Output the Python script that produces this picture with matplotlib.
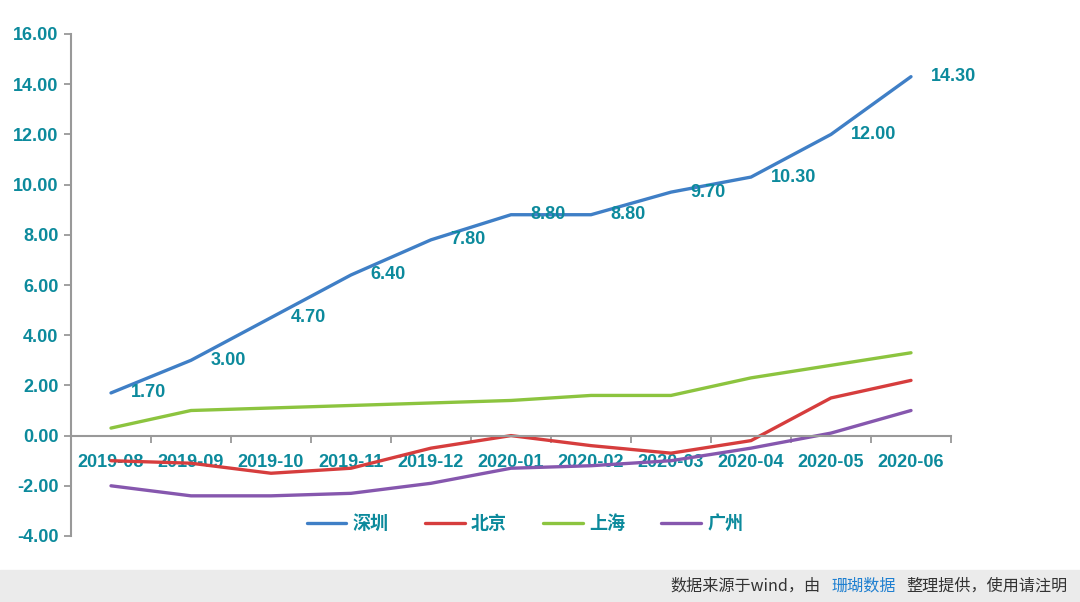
import numpy as np
import matplotlib.pyplot as plt
from matplotlib.patches import Rectangle

plt.rcParams['font.family'] = ['Liberation Sans', 'Noto Sans CJK SC', 'DejaVu Sans']

# data
months = ['2019-08', '2019-09', '2019-10', '2019-11', '2019-12', '2020-01',
          '2020-02', '2020-03', '2020-04', '2020-05', '2020-06']
shenzhen = [1.70, 3.00, 4.70, 6.40, 7.80, 8.80, 8.80, 9.70, 10.30, 12.00, 14.30]
beijing = [-1.0, -1.1, -1.5, -1.3, -0.5, 0.0, -0.4, -0.7, -0.2, 1.5, 2.2]
shanghai = [0.3, 1.0, 1.1, 1.2, 1.3, 1.4, 1.6, 1.6, 2.3, 2.8, 3.3]
guangzhou = [-2.0, -2.4, -2.4, -2.3, -1.9, -1.3, -1.2, -1.0, -0.5, 0.1, 1.0]
names = ['深圳', '北京', '上海', '广州']
colors = ['#3F7FC6', '#D63D3D', '#8CC43F', '#8657AE']

teal = '#0C8A9C'
x = np.arange(len(months))

fig = plt.figure(figsize=(10.8, 6.02), dpi=100)
ax = fig.add_axes([71 / 1080, 66 / 602, 880 / 1080, 502 / 602])

for vals, name, c in zip([shenzhen, beijing, shanghai, guangzhou], names, colors):
    ax.plot(x, vals, color=c, lw=2.4, label=name, solid_capstyle='round')

for xi, v in zip(x, shenzhen):
    ax.annotate(f'{v:.2f}', (xi, v), xytext=(14, 0), textcoords='offset points',
                ha='left', va='center', color=teal, fontsize=13, fontweight='bold')

for s in ['top', 'right']:
    ax.spines[s].set_visible(False)
ax.spines['bottom'].set_position(('data', 0))
for s in ['left', 'bottom']:
    ax.spines[s].set_color('#999999')
    ax.spines[s].set_linewidth(1.5)

ax.set_xlim(-0.5, len(months) - 0.5)
ax.set_ylim(-4, 16)
yt = np.arange(-4, 17, 2)
ax.set_yticks(yt)
ax.set_yticklabels([f'{v:.2f}' for v in yt], fontsize=13, fontweight='bold', color=teal)

ax.set_xticks(x)
ax.set_xticklabels(months, fontsize=13, fontweight='bold', color=teal)
ax.set_xticks(np.arange(0.5, len(months), 1), minor=True)
ax.tick_params(axis='x', which='major', length=0, pad=13)
ax.tick_params(axis='x', which='minor', length=5, width=1.3, color='#999999', direction='out')
ax.tick_params(axis='y', length=5, width=1.3, color='#999999', pad=4)

leg = fig.legend(loc='center', bbox_to_anchor=(525 / 1080, 1 - 524 / 602), ncol=4,
                 frameon=False, handlelength=2.2, columnspacing=2.0, handletextpad=0.35,
                 prop={'weight': 'bold', 'size': 13})
for t in leg.get_texts():
    t.set_color(teal)

# grey source banner at the bottom
fig.patches.append(Rectangle((0, 0), 1, 32 / 602, transform=fig.transFigure,
                             color='#EBEBEB', zorder=0))
parts = [('数据来源于wind，由', '#333333'), ('珊瑚数据', '#1E7FD0'),
         ('整理提供，使用请注明', '#333333')]
fig.canvas.draw()
renderer = fig.canvas.get_renderer()
xr = 1068
for txt, c in reversed(parts):
    t = fig.text(xr / 1080, 16 / 602, txt, ha='right', va='center', fontsize=11.6,
                 color=c, family=['Noto Sans CJK SC'])
    w = t.get_window_extent(renderer).width
    xr -= w + 11

fig.savefig('out.png', dpi=100)
